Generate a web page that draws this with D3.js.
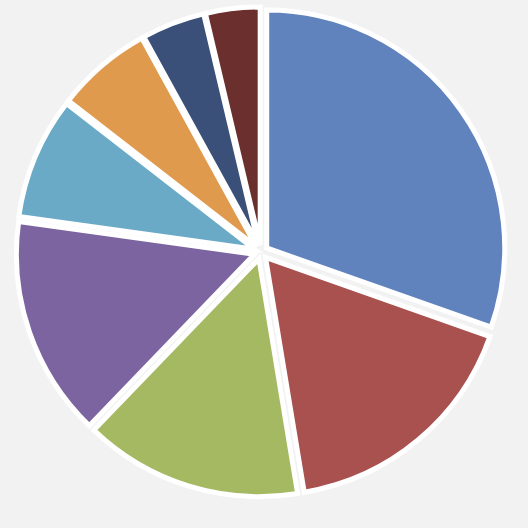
<!DOCTYPE html><html><head><script src="https://cdn.jsdelivr.net/npm/d3@7"></script>
<style>body{margin:0;background:#f2f2f2}</style></head><body><svg id="c" width="528" height="528"></svg>
<script>
const categories=["A","B","C","D","E","F","G","H"];
const values=[30.4,17,14.8,15,8.3,6.5,4.3,3.7];
const colors=["#6083BE","#A8514E","#A5B963","#7B64A0","#6AAAC6","#E09A4E","#3A5079","#6B2F2E"];
const svg=d3.select("#c");
const g=svg.append("g").attr("transform","translate(261,252)");
const pie=d3.pie().sort(null).value(d=>d)(values);
const r=238, off=7;
const arc=d3.arc().innerRadius(0).outerRadius(r);
g.selectAll("path").data(pie).join("path")
 .attr("d",arc).attr("fill",(d,i)=>colors[i])
 .attr("stroke","#fff").attr("stroke-width",5).attr("stroke-linejoin","miter")
 .attr("transform",d=>{const a=(d.startAngle+d.endAngle)/2;return `translate(${off*Math.sin(a)},${-off*Math.cos(a)})`;});
</script></body></html>
